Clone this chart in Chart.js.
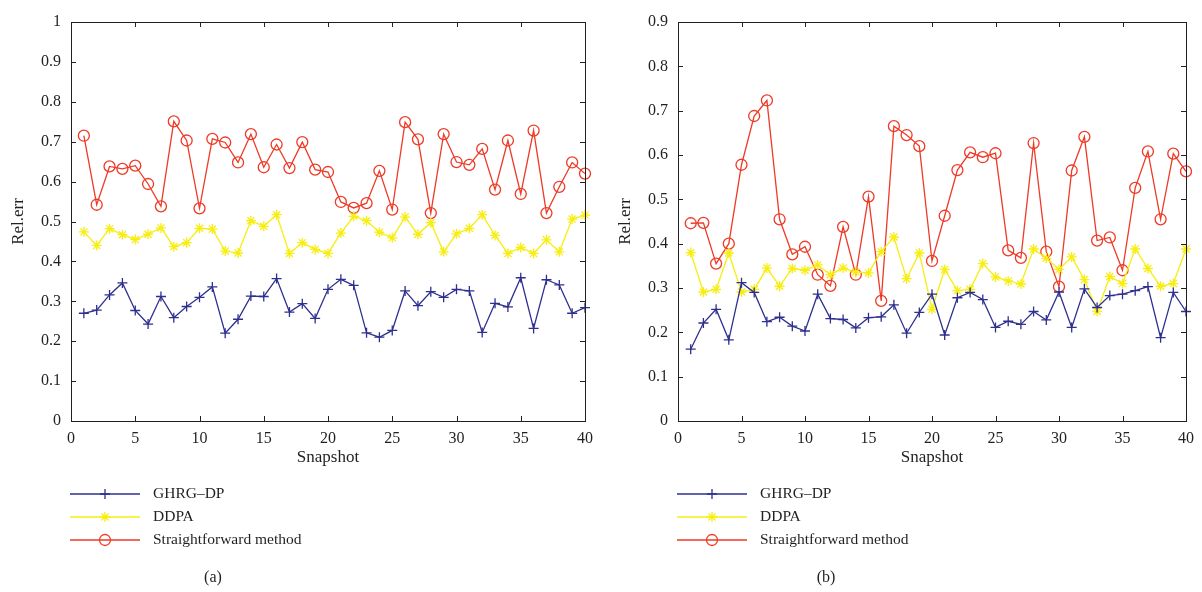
<!DOCTYPE html>
<html>
<head>
<meta charset="utf-8">
<script src="https://cdn.jsdelivr.net/npm/chart.js@4.4.1/dist/chart.umd.min.js"></script>
<style>
  body { margin: 0; background: #fff; width: 1202px; height: 592px; overflow: hidden; position: relative; }
  .panel { position: absolute; top: 0; width: 601px; height: 592px; }
</style>
</head>
<body>
<div class="panel" style="left:0"><canvas id="chart-a" width="601" height="592"></canvas></div>
<div class="panel" style="left:601px"><canvas id="chart-b" width="601" height="592"></canvas></div>
<script>
// Relative error per snapshot, panels (a) and (b)

const snapshots = [1, 2, 3, 4, 5, 6, 7, 8, 9, 10, 11, 12, 13, 14, 15, 16, 17, 18, 19, 20,
  21, 22, 23, 24, 25, 26, 27, 28, 29, 30, 31, 32, 33, 34, 35, 36, 37, 38, 39, 40]

const seriesNames = ['GHRG\u2013DP', 'DDPA', 'Straightforward method']

// panel (a)
const ghrgA = [0.270, 0.278, 0.316, 0.346, 0.277, 0.243, 0.312, 0.259, 0.287, 0.310,
  0.336, 0.220, 0.255, 0.313, 0.312, 0.357, 0.273, 0.294, 0.257, 0.330,
  0.355, 0.340, 0.221, 0.210, 0.227, 0.326, 0.289, 0.324, 0.310, 0.330,
  0.326, 0.222, 0.295, 0.286, 0.359, 0.232, 0.354, 0.341, 0.270, 0.284]
const ddpaA = [0.474, 0.440, 0.482, 0.467, 0.455, 0.468, 0.484, 0.437, 0.447, 0.483,
  0.481, 0.426, 0.421, 0.502, 0.488, 0.517, 0.420, 0.447, 0.430, 0.420,
  0.471, 0.513, 0.502, 0.473, 0.459, 0.511, 0.468, 0.497, 0.424, 0.469,
  0.483, 0.517, 0.465, 0.420, 0.435, 0.420, 0.454, 0.424, 0.506, 0.516]
const straightA = [0.715, 0.542, 0.638, 0.632, 0.640, 0.594, 0.538, 0.751, 0.703, 0.533,
  0.707, 0.698, 0.648, 0.719, 0.636, 0.693, 0.634, 0.699, 0.630, 0.624,
  0.549, 0.534, 0.546, 0.627, 0.530, 0.749, 0.706, 0.521, 0.719, 0.649,
  0.642, 0.682, 0.580, 0.703, 0.569, 0.728, 0.521, 0.587, 0.648, 0.620]

// panel (b)
const ghrgB = [0.162, 0.221, 0.252, 0.183, 0.312, 0.290, 0.224, 0.234, 0.214, 0.203,
  0.286, 0.231, 0.229, 0.210, 0.233, 0.235, 0.262, 0.198, 0.245, 0.286,
  0.194, 0.278, 0.290, 0.274, 0.211, 0.225, 0.218, 0.247, 0.228, 0.291,
  0.211, 0.298, 0.256, 0.283, 0.286, 0.294, 0.303, 0.188, 0.290, 0.247]
const ddpaB = [0.380, 0.291, 0.297, 0.379, 0.291, 0.297, 0.345, 0.304, 0.344, 0.340,
  0.352, 0.330, 0.345, 0.336, 0.334, 0.382, 0.415, 0.321, 0.379, 0.252,
  0.342, 0.294, 0.297, 0.355, 0.325, 0.316, 0.309, 0.388, 0.367, 0.342,
  0.370, 0.319, 0.247, 0.326, 0.310, 0.388, 0.344, 0.304, 0.310, 0.388]
const straightB = [0.446, 0.447, 0.355, 0.400, 0.578, 0.688, 0.723, 0.455, 0.376, 0.393,
  0.330, 0.305, 0.438, 0.330, 0.506, 0.271, 0.665, 0.645, 0.620, 0.361,
  0.463, 0.566, 0.606, 0.595, 0.604, 0.385, 0.368, 0.627, 0.382, 0.303,
  0.565, 0.641, 0.407, 0.414, 0.340, 0.526, 0.608, 0.455, 0.603, 0.563]

const xTicks = [0, 5, 10, 15, 20, 25, 30, 35, 40]

const COLORS = { blue: '#2e2f8f', yellow: '#f7ee10', red: '#ee3a26', axis: '#231f20' }
const FONT = '"Liberation Serif", "Times New Roman", serif'

function drawMarker(ctx, style, x, y, r) {
  ctx.beginPath()
  if (style === 'circle') {
    ctx.arc(x, y, r, 0, Math.PI * 2)
  } else {
    ctx.moveTo(x - r, y); ctx.lineTo(x + r, y)
    ctx.moveTo(x, y - r); ctx.lineTo(x, y + r)
    if (style === 'star') {
      const d = r * Math.SQRT1_2
      ctx.moveTo(x - d, y - d); ctx.lineTo(x + d, y + d)
      ctx.moveTo(x - d, y + d); ctx.lineTo(x + d, y - d)
    }
  }
  ctx.stroke()
}

// box around the plot with inward ticks on all four sides
const matlabFrame = {
  id: 'matlabFrame',
  afterDraw(chart) {
    const { ctx, chartArea: a, scales } = chart
    const len = 5
    ctx.save()
    ctx.strokeStyle = COLORS.axis
    ctx.lineWidth = 1
    ctx.strokeRect(a.left + 0.5, a.top + 0.5, a.right - a.left, a.bottom - a.top)
    ctx.beginPath()
    scales.x.ticks.forEach(t => {
      const px = Math.round(scales.x.getPixelForValue(t.value)) + 0.5
      ctx.moveTo(px, a.bottom); ctx.lineTo(px, a.bottom - len)
      ctx.moveTo(px, a.top); ctx.lineTo(px, a.top + len)
    })
    scales.y.ticks.forEach(t => {
      const py = Math.round(scales.y.getPixelForValue(t.value)) + 0.5
      ctx.moveTo(a.left, py); ctx.lineTo(a.left + len, py)
      ctx.moveTo(a.right, py); ctx.lineTo(a.right - len, py)
    })
    ctx.stroke()
    ctx.restore()
  }
}

// legend with line samples under the plot, plus the panel caption
const legendBelow = {
  id: 'legendBelow',
  afterDraw(chart, args, opts) {
    const { ctx, chartArea: a } = chart
    const x0 = a.left - 1
    ctx.save()
    ctx.font = '15.5px ' + FONT
    ctx.textBaseline = 'middle'
    chart.data.datasets.forEach((ds, i) => {
      const y = opts.top + i * 23
      ctx.strokeStyle = ds.borderColor
      ctx.lineWidth = 1.3
      ctx.beginPath()
      ctx.moveTo(x0, y); ctx.lineTo(x0 + 70, y)
      ctx.stroke()
      drawMarker(ctx, ds.pointStyle, x0 + 35, y, ds.pointRadius)
      ctx.fillStyle = COLORS.axis
      ctx.textAlign = 'left'
      ctx.fillText(ds.label, x0 + 83, y)
    })
    ctx.font = '16px ' + FONT
    ctx.textAlign = 'center'
    ctx.fillText(opts.caption, opts.captionX, 578)
    ctx.restore()
  }
}

function makeDataset(label, values, color, style, radius) {
  return {
    label,
    data: snapshots.map((s, i) => ({ x: s, y: values[i] })),
    borderColor: color,
    backgroundColor: 'rgba(0,0,0,0)',
    borderWidth: 1.3,
    pointStyle: style,
    pointRadius: radius,
    pointBorderWidth: 1.3,
    pointBackgroundColor: 'rgba(0,0,0,0)',
    tension: 0,
    clip: false,
  }
}

function buildChart(id, series, yMax, axisWidth, titlePad, caption, captionX) {
  const tickFont = { family: FONT, size: 16 }
  return new Chart(document.getElementById(id), {
    type: 'line',
    data: {
      datasets: [
        makeDataset(seriesNames[0], series[0], COLORS.blue, 'cross', 5),
        makeDataset(seriesNames[1], series[1], COLORS.yellow, 'star', 5),
        makeDataset(seriesNames[2], series[2], COLORS.red, 'circle', 5.5),
      ]
    },
    options: {
      responsive: false,
      animation: false,
      devicePixelRatio: 1,
      layout: { padding: { left: 0, top: 22, right: 601 - 585 - (axisWidth - 71), bottom: 122 } },
      scales: {
        x: {
          type: 'linear',
          min: 0,
          max: 40,
          afterBuildTicks: (s) => { s.ticks = xTicks.map(v => ({ value: v })) },
          afterFit: (s) => { s.height = 49 },
          grid: { display: false, drawTicks: false },
          border: { display: false },
          ticks: { padding: 8, color: COLORS.axis, font: tickFont, maxRotation: 0 },
          title: { display: true, text: 'Snapshot', color: COLORS.axis, font: { family: FONT, size: 17 }, padding: { top: 0, bottom: 2 } },
        },
        y: {
          min: 0,
          max: yMax,
          afterFit: (s) => { s.width = axisWidth },
          grid: { display: false, drawTicks: false },
          border: { display: false },
          ticks: { stepSize: 0.1, padding: 10, color: COLORS.axis, font: tickFont, callback: (v) => String(+v.toFixed(1)) },
          title: { display: true, text: 'Rel.err', color: COLORS.axis, font: { family: FONT, size: 17 }, padding: { top: titlePad, bottom: 0 } },
        }
      },
      plugins: {
        legend: { display: false },
        tooltip: { enabled: false },
        legendBelow: { top: 494, caption, captionX },
      }
    },
    plugins: [matlabFrame, legendBelow]
  })
}

buildChart('chart-a', [ghrgA, ddpaA, straightA], 1, 71, 8, '(a)', 213)
buildChart('chart-b', [ghrgB, ddpaB, straightB], 0.9, 77, 14, '(b)', 225)
</script>
</body>
</html>
